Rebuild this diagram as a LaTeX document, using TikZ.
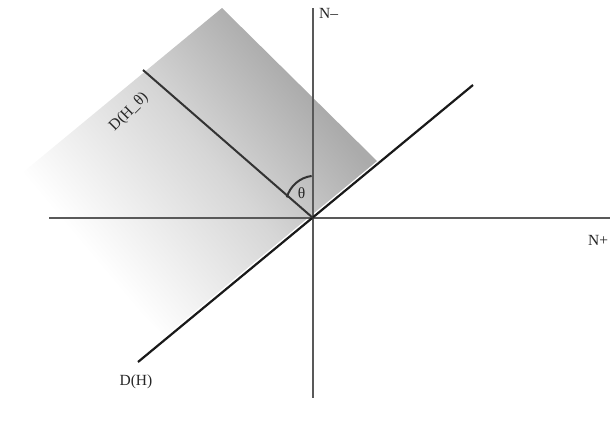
\documentclass[tikz,border=0pt]{standalone}
\usepackage{fontspec}
\setmainfont{Liberation Serif}
\usetikzlibrary{calc}
\pgfdeclareverticalshading{fadeDH}{100bp}{color(0bp)=(white); color(31bp)=(white); color(53bp)=(black!16); color(70bp)=(black!33); color(100bp)=(black!35)}
\begin{document}
\begin{tikzpicture}[x=1pt,y=-1pt,
  axis/.style={draw=black!65, line width=1.2pt},
  horizon/.style={draw=black!90, line width=2.2pt},
  slice/.style={draw=black!80, line width=2pt},
  lbl/.style={font=\fontsize{15.5}{18}\selectfont, text=black!85, inner sep=1pt}]
\useasboundingbox (0,0) rectangle (610,429);
\shade[shading=fadeDH, shading angle=-50]
  (377,161) -- (222,8) -- (10,183) -- (165,336) -- cycle;
\coordinate (O) at (313,218);
\coordinate (vt) at (313,8);
\coordinate (vb) at (313,398);
\coordinate (hl) at (49,218);
\coordinate (hr) at (610,218);
\coordinate (h1) at (138,362);
\coordinate (h2) at (473,85);
\coordinate (t1) at (143,70);
\coordinate (ac) at (315.5,205.5);
\draw[axis] (vt) -- (vb);
\draw[axis] (hl) -- (hr);
\draw[horizon] (h1) -- (h2);
\draw[slice] (t1) -- (O);
\draw[slice] ($(ac)+(-97.5:29.8)$) arc[start angle=-97.5, end angle=-164, radius=29.8];
\node[lbl] (th) at (301.5,193) {θ};
\node[lbl, anchor=west] (nm) at (318,13) {N–};
\node[lbl, anchor=west] (np) at (587,240) {N+};
\node[lbl] (dh) at (136,382) {D(H)};
\node[lbl, rotate=45] (dht) at (129,112) {D(H\_θ)};
\end{tikzpicture}
\end{document}
